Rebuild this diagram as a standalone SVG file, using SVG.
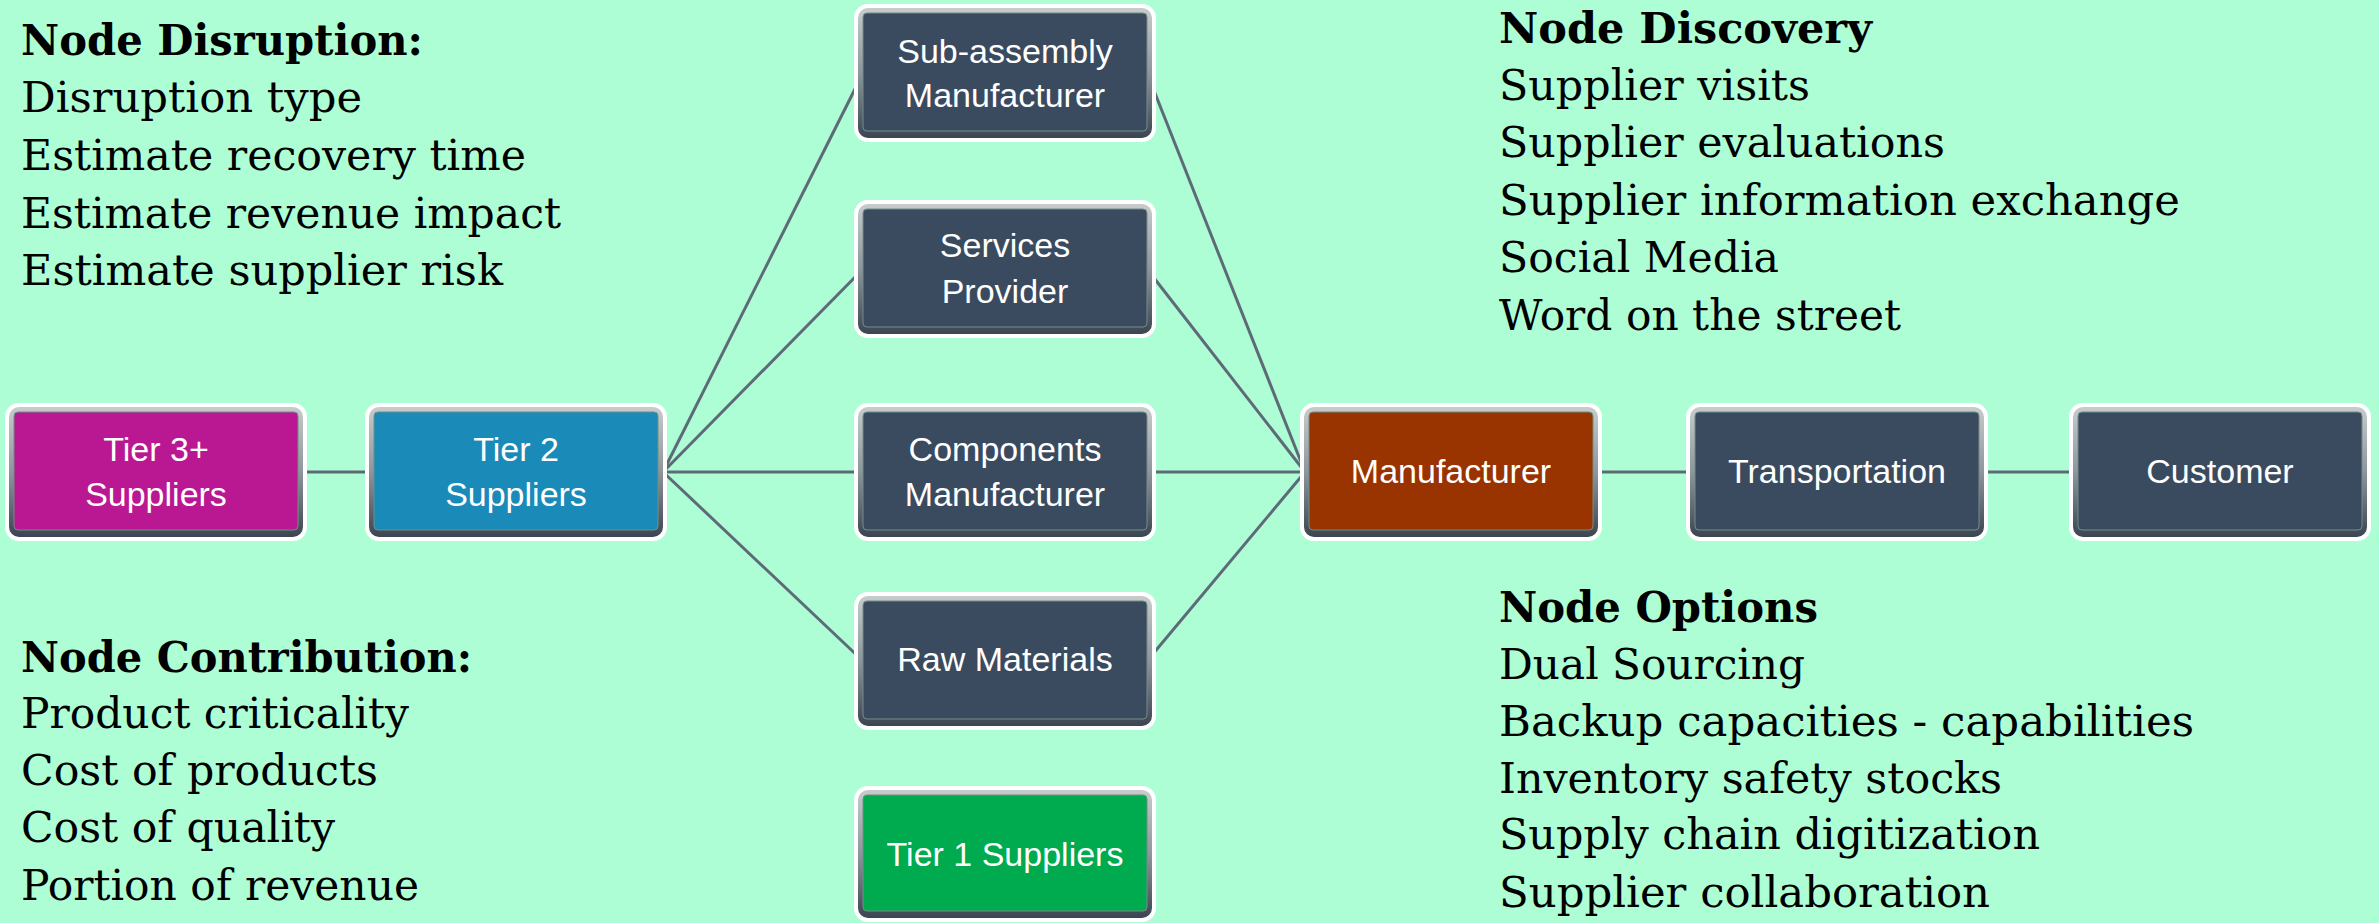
<svg xmlns="http://www.w3.org/2000/svg" width="2379" height="923" viewBox="0 0 2379 923">
<style>
.frame{fill:url(#frameGrad);stroke:#ffffff;stroke-width:4}
.inner{stroke:#6f8f86;stroke-width:1}
.lbl{font-family:"Liberation Sans",Arial,sans-serif;font-size:34px;fill:#ffffff;text-anchor:middle}
.hd{font-family:"DejaVu Serif","Liberation Serif",serif;font-size:42px;font-weight:bold;fill:#000000}
.it{font-family:"DejaVu Serif","Liberation Serif",serif;font-size:42px;fill:#000000}
.conn line{stroke:#5e6a78;stroke-width:3;fill:none}
</style>
<defs>
<linearGradient id="frameGrad" x1="0" y1="0" x2="0" y2="1">
<stop offset="0" stop-color="#c9cdcd"/>
<stop offset="0.5" stop-color="#8e959c"/>
<stop offset="1" stop-color="#39424f"/>
</linearGradient>
</defs>
<rect x="0" y="0" width="2379" height="923" fill="#adfed5"/>

<g id="connectors" class="conn">
<line x1="305" y1="472" x2="369" y2="472"/>
<line x1="663" y1="472" x2="863" y2="73"/>
<line x1="663" y1="472" x2="863" y2="269"/>
<line x1="663" y1="472" x2="863" y2="472"/>
<line x1="663" y1="472" x2="863" y2="661"/>
<line x1="1147" y1="73" x2="1305" y2="472"/>
<line x1="1147" y1="269" x2="1305" y2="472"/>
<line x1="1147" y1="472" x2="1305" y2="472"/>
<line x1="1147" y1="661" x2="1305" y2="472"/>
<line x1="1598" y1="472" x2="1690" y2="472"/>
<line x1="1984" y1="472" x2="2073" y2="472"/>
</g>

<g id="tier3">
<rect class="frame" x="7" y="405" width="298" height="134" rx="12"/>
<rect class="inner" x="14" y="412" width="284" height="118" rx="4" fill="#ba1793"/>
<text class="lbl" x="156" y="461">Tier 3+</text>
<text class="lbl" x="156" y="506">Suppliers</text>
</g>
<g id="tier2">
<rect class="frame" x="367" y="405" width="298" height="134" rx="12"/>
<rect class="inner" x="374" y="412" width="284" height="118" rx="4" fill="#1a8ab8"/>
<text class="lbl" x="516" y="461">Tier 2</text>
<text class="lbl" x="516" y="506">Suppliers</text>
</g>
<g id="subassembly">
<rect class="frame" x="856" y="6" width="298" height="134" rx="12"/>
<rect class="inner" x="863" y="13" width="284" height="118" rx="4" fill="#3a4b5f"/>
<text class="lbl" x="1005" y="63">Sub-assembly</text>
<text class="lbl" x="1005" y="107">Manufacturer</text>
</g>
<g id="services">
<rect class="frame" x="856" y="202" width="298" height="134" rx="12"/>
<rect class="inner" x="863" y="209" width="284" height="118" rx="4" fill="#3a4b5f"/>
<text class="lbl" x="1005" y="257">Services</text>
<text class="lbl" x="1005" y="303">Provider</text>
</g>
<g id="components">
<rect class="frame" x="856" y="405" width="298" height="134" rx="12"/>
<rect class="inner" x="863" y="412" width="284" height="118" rx="4" fill="#3a4b5f"/>
<text class="lbl" x="1005" y="461">Components</text>
<text class="lbl" x="1005" y="506">Manufacturer</text>
</g>
<g id="rawmaterials">
<rect class="frame" x="856" y="594" width="298" height="134" rx="12"/>
<rect class="inner" x="863" y="601" width="284" height="118" rx="4" fill="#3a4b5f"/>
<text class="lbl" x="1005" y="671">Raw Materials</text>
</g>
<g id="tier1">
<rect class="frame" x="856" y="788" width="298" height="132" rx="12"/>
<rect class="inner" x="863" y="795" width="284" height="116" rx="4" fill="#00aa4f"/>
<text class="lbl" x="1005" y="866">Tier 1 Suppliers</text>
</g>
<g id="manufacturer">
<rect class="frame" x="1302" y="405" width="298" height="134" rx="12"/>
<rect class="inner" x="1309" y="412" width="284" height="118" rx="4" fill="#993300"/>
<text class="lbl" x="1451" y="483">Manufacturer</text>
</g>
<g id="transportation">
<rect class="frame" x="1688" y="405" width="298" height="134" rx="12"/>
<rect class="inner" x="1695" y="412" width="284" height="118" rx="4" fill="#3a4b5f"/>
<text class="lbl" x="1837" y="483">Transportation</text>
</g>
<g id="customer">
<rect class="frame" x="2071" y="405" width="298" height="134" rx="12"/>
<rect class="inner" x="2078" y="412" width="284" height="118" rx="4" fill="#3a4b5f"/>
<text class="lbl" x="2220" y="483">Customer</text>
</g>

<g id="node-disruption">
<text class="hd" x="21" y="55" textLength="402" lengthAdjust="spacingAndGlyphs">Node Disruption:</text>
<text class="it" x="21" y="112" textLength="341" lengthAdjust="spacingAndGlyphs">Disruption type</text>
<text class="it" x="21" y="170" textLength="505" lengthAdjust="spacingAndGlyphs">Estimate recovery time</text>
<text class="it" x="21" y="228" textLength="540" lengthAdjust="spacingAndGlyphs">Estimate revenue impact</text>
<text class="it" x="21" y="285" textLength="482" lengthAdjust="spacingAndGlyphs">Estimate supplier risk</text>
</g>
<g id="node-contribution">
<text class="hd" x="21" y="672" textLength="451" lengthAdjust="spacingAndGlyphs">Node Contribution:</text>
<text class="it" x="21" y="728" textLength="388" lengthAdjust="spacingAndGlyphs">Product criticality</text>
<text class="it" x="21" y="785" textLength="357" lengthAdjust="spacingAndGlyphs">Cost of products</text>
<text class="it" x="21" y="842" textLength="314" lengthAdjust="spacingAndGlyphs">Cost of quality</text>
<text class="it" x="21" y="900" textLength="398" lengthAdjust="spacingAndGlyphs">Portion of revenue</text>
</g>
<g id="node-discovery">
<text class="hd" x="1499" y="43" textLength="373" lengthAdjust="spacingAndGlyphs">Node Discovery</text>
<text class="it" x="1499" y="100" textLength="311" lengthAdjust="spacingAndGlyphs">Supplier visits</text>
<text class="it" x="1499" y="157" textLength="446" lengthAdjust="spacingAndGlyphs">Supplier evaluations</text>
<text class="it" x="1499" y="215" textLength="681" lengthAdjust="spacingAndGlyphs">Supplier information exchange</text>
<text class="it" x="1499" y="272" textLength="280" lengthAdjust="spacingAndGlyphs">Social Media</text>
<text class="it" x="1499" y="330" textLength="402" lengthAdjust="spacingAndGlyphs">Word on the street</text>
</g>
<g id="node-options">
<text class="hd" x="1499" y="622" textLength="319" lengthAdjust="spacingAndGlyphs">Node Options</text>
<text class="it" x="1499" y="679" textLength="306" lengthAdjust="spacingAndGlyphs">Dual Sourcing</text>
<text class="it" x="1499" y="736" textLength="695" lengthAdjust="spacingAndGlyphs">Backup capacities - capabilities</text>
<text class="it" x="1499" y="793" textLength="503" lengthAdjust="spacingAndGlyphs">Inventory safety stocks</text>
<text class="it" x="1499" y="849" textLength="541" lengthAdjust="spacingAndGlyphs">Supply chain digitization</text>
<text class="it" x="1499" y="907" textLength="491" lengthAdjust="spacingAndGlyphs">Supplier collaboration</text>
</g>
</svg>
